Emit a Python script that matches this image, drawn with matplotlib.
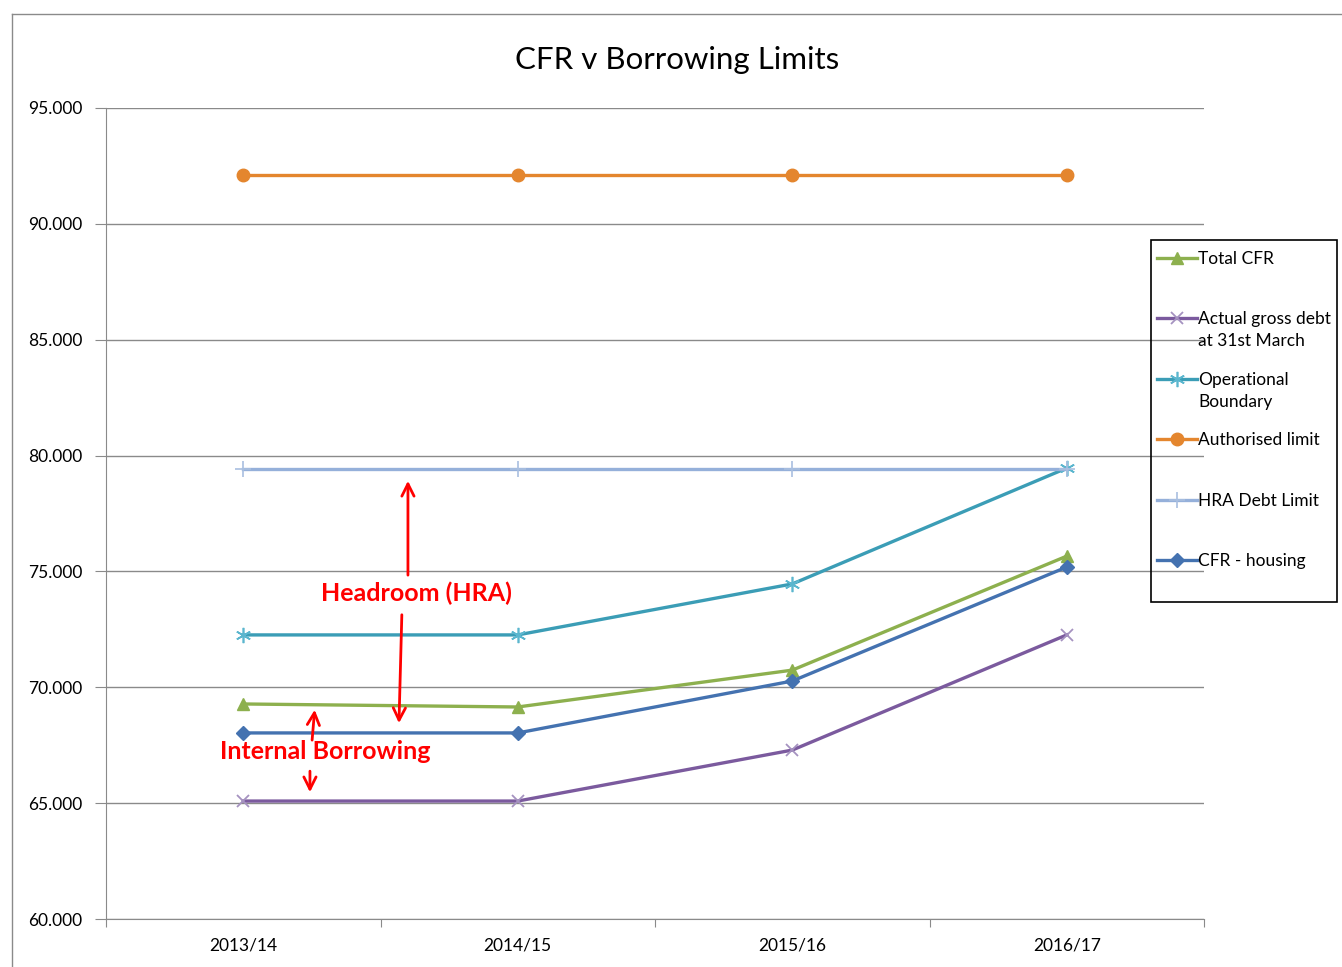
import matplotlib
matplotlib.use("Agg")
import matplotlib.pyplot as plt
from matplotlib.patches import Rectangle
from matplotlib.lines import Line2D

plt.rcParams['font.family'] = ['Lato', 'DejaVu Sans']

years = ["2013/14", "2014/15", "2015/16", "2016/17"]
total_cfr = [69.28, 69.15, 70.74, 75.66]
actual_debt = [65.09, 65.09, 67.29, 72.26]
op_boundary = [72.26, 72.26, 74.46, 79.46]
auth_limit = [92.11, 92.11, 92.11, 92.11]
hra_limit = [79.42, 79.42, 79.42, 79.42]
cfr_housing = [68.03, 68.03, 70.27, 75.19]

W, H = 1342, 967
fig = plt.figure(figsize=(W / 100, H / 100), dpi=100)

def fx(px):
    return px / W

def fy(py):
    return 1 - py / H

# outer chart frame (cut off at right/bottom like the screenshot)
fig.add_artist(Line2D([fx(12), fx(12)], [0, fy(14)], color="#8a8a8a", lw=1))
fig.add_artist(Line2D([fx(12), 1], [fy(14), fy(14)], color="#8a8a8a", lw=1))

ax = fig.add_axes([fx(106), 48 / H, (1204 - 106) / W, (919 - 108) / H])
x = list(range(len(years)))

series = [
    (total_cfr, "Total CFR", "#8DB04E", dict(marker="^", ms=9)),
    (actual_debt, "Actual gross debt\nat 31st March", "#7B5A9E",
     dict(marker="x", ms=9, mec="#A592C0", mew=1.3)),
    (op_boundary, "Operational\nBoundary", "#3B9DB6",
     dict(marker=(6, 2, 0), ms=11, mec="#5BB6CE", mew=1.2)),
    (auth_limit, "Authorised limit", "#E4862E", dict(marker="o", ms=9)),
    (hra_limit, "HRA Debt Limit", "#95B0DA",
     dict(marker="+", ms=11, mec="#A9BFE0", mew=1.2)),
    (cfr_housing, "CFR - housing", "#4472B0", dict(marker="D", ms=7)),
]
for vals, label, col, mk in series:
    ax.plot(x, vals, color=col, lw=2.4, label=label, zorder=3, **mk)

ax.set_xlim(-0.5, 3.5)
ax.set_ylim(60, 95)
yt = [60, 65, 70, 75, 80, 85, 90, 95]
ax.set_yticks(yt)
ax.set_yticklabels(["%.3f" % v for v in yt], fontsize=12.5)
ax.set_xticks([-0.5, 0.5, 1.5, 2.5, 3.5])
ax.set_xticklabels([])
ax.set_xticks(x, minor=True)
ax.set_xticklabels(years, minor=True, fontsize=12.5)
ax.tick_params(axis="x", which="minor", length=0, pad=13)
ax.tick_params(axis="x", which="major", length=6, color="#8a8a8a", direction="out")
ax.tick_params(axis="y", length=8, color="#8a8a8a", pad=9)
ax.grid(axis="y", color="#8a8a8a", lw=1)
ax.set_axisbelow(True)
for s in ["top", "right"]:
    ax.spines[s].set_visible(False)
for s in ["left", "bottom"]:
    ax.spines[s].set_color("#8a8a8a")

fig.text(fx(677), fy(60), "CFR v Borrowing Limits", ha="center", va="center", fontsize=22.5)

# legend box drawn by hand so multi-line labels align like Excel's
fig.add_artist(Rectangle((fx(1151), fy(602)), fx(1337) - fx(1151), fy(240) - fy(602),
                         transform=fig.transFigure, fill=False, ec="black", lw=1.2))
for i, (vals, label, col, mk) in enumerate(series):
    yy = fy(258 + 60.4 * i)
    fig.add_artist(Line2D([fx(1157), fx(1197)], [yy, yy], color=col, lw=2.4))
    fig.add_artist(Line2D([fx(1177)], [yy], color=col, lw=0, **mk))
    fig.text(fx(1198), fy(258 + 60.4 * i - 7), label, ha="left", va="top",
             fontsize=12.5, linespacing=1.45)

# annotations
red = "#FF0000"
ax.text(0.63, 74.07, "Headroom (HRA)", color=red, fontsize=18, fontweight="bold",
        ha="center", va="center")
ax.text(0.30, 67.21, "Internal Borrowing", color=red, fontsize=18, fontweight="bold",
        ha="center", va="center")
arr = dict(arrowstyle="->", color=red, lw=2, mutation_scale=22)
ax.annotate("", xy=(0.60, 79.03), xytext=(0.60, 74.72), arrowprops=arr)
ax.annotate("", xy=(0.567, 68.33), xytext=(0.578, 73.25), arrowprops=arr)
ax.annotate("", xy=(0.261, 69.15), xytext=(0.25, 67.6), arrowprops=arr)
ax.annotate("", xy=(0.243, 65.35), xytext=(0.243, 66.5), arrowprops=arr)

fig.savefig("out.png", dpi=100)
